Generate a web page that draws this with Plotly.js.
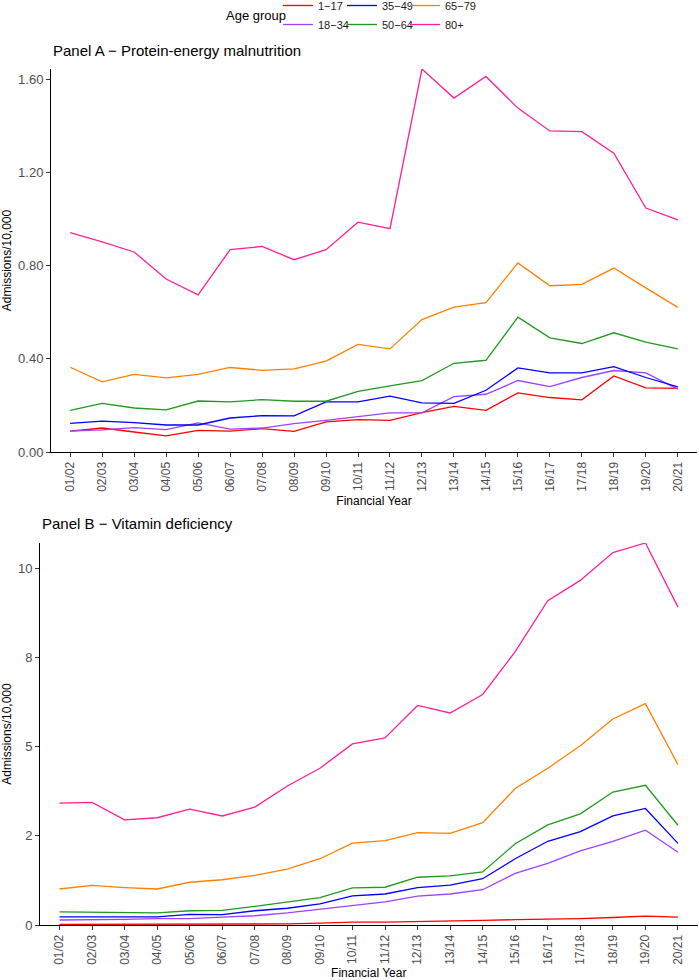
<!DOCTYPE html>
<html>
<head>
<meta charset="utf-8">
<script src="https://cdn.plot.ly/plotly-3.0.1.min.js"></script>
<style>
  html, body { margin: 0; padding: 0; background: #ffffff; }
  #chart { width: 699px; height: 980px; }
</style>
</head>
<body>
<div id="chart"></div>
<script>
// Financial years (x categories)
const years = ['01/02','02/03','03/04','04/05','05/06','06/07','07/08','08/09','09/10','10/11',
               '11/12','12/13','13/14','14/15','15/16','16/17','17/18','18/19','19/20','20/21'];

// Age groups and their line colours
const ageGroups = ['1\u221217', '18\u221234', '35\u221249', '50\u221264', '65\u221279', '80+'];
const groupColors = ['#ff0000', '#a040ff', '#0000ff', '#1f9a1f', '#ff8000', '#ff1f9a'];

// Panel A: protein-energy malnutrition, admissions per 10,000
const pemAge1to17  = [0.090, 0.103, 0.086, 0.069, 0.093, 0.090, 0.100, 0.089, 0.129, 0.139,
                      0.136, 0.169, 0.196, 0.179, 0.254, 0.234, 0.224, 0.327, 0.275, 0.273];
const pemAge18to34 = [0.090, 0.095, 0.105, 0.096, 0.125, 0.098, 0.103, 0.122, 0.136, 0.151,
                      0.168, 0.168, 0.238, 0.248, 0.307, 0.281, 0.320, 0.350, 0.340, 0.270];
const pemAge35to49 = [0.123, 0.133, 0.126, 0.116, 0.116, 0.146, 0.156, 0.155, 0.215, 0.215,
                      0.240, 0.211, 0.209, 0.265, 0.361, 0.340, 0.340, 0.367, 0.320, 0.280];
const pemAge50to64 = [0.179, 0.209, 0.189, 0.181, 0.219, 0.215, 0.225, 0.218, 0.218, 0.260,
                      0.284, 0.307, 0.381, 0.394, 0.579, 0.490, 0.466, 0.512, 0.472, 0.443];
const pemAge65to79 = [0.364, 0.301, 0.333, 0.318, 0.333, 0.363, 0.351, 0.357, 0.390, 0.462,
                      0.443, 0.569, 0.622, 0.641, 0.812, 0.714, 0.720, 0.790, 0.705, 0.621];
const pemAge80plus = [0.942, 0.903, 0.859, 0.743, 0.675, 0.869, 0.883, 0.826, 0.869, 0.987,
                      0.959, 1.645, 1.520, 1.613, 1.477, 1.379, 1.376, 1.283, 1.048, 0.997];

// Panel B: vitamin deficiency, admissions per 10,000
const vitAge1to17  = [0.02, 0.02, 0.02, 0.02, 0.03, 0.03, 0.03, 0.03, 0.05, 0.08,
                      0.08, 0.09, 0.10, 0.13, 0.15, 0.16, 0.18, 0.21, 0.25, 0.22];
const vitAge18to34 = [0.14, 0.14, 0.16, 0.18, 0.18, 0.22, 0.26, 0.34, 0.44, 0.56,
                      0.65, 0.81, 0.87, 0.99, 1.45, 1.73, 2.08, 2.35, 2.66, 2.04];
const vitAge35to49 = [0.23, 0.23, 0.23, 0.23, 0.30, 0.29, 0.40, 0.47, 0.59, 0.82,
                      0.87, 1.05, 1.12, 1.30, 1.86, 2.35, 2.62, 3.06, 3.27, 2.29];
const vitAge50to64 = [0.37, 0.36, 0.35, 0.34, 0.40, 0.41, 0.52, 0.64, 0.77, 1.04,
                      1.06, 1.34, 1.38, 1.49, 2.28, 2.81, 3.12, 3.73, 3.92, 2.80];
const vitAge65to79 = [1.01, 1.11, 1.05, 1.01, 1.20, 1.27, 1.39, 1.57, 1.86, 2.30,
                      2.37, 2.59, 2.57, 2.87, 3.83, 4.40, 5.03, 5.78, 6.21, 4.50];
const vitAge80plus = [3.42, 3.44, 2.95, 3.01, 3.25, 3.06, 3.31, 3.90, 4.40, 5.08,
                      5.25, 6.16, 5.95, 6.47, 7.67, 9.10, 9.67, 10.45, 10.72, 8.92];

// Axis ticks
const pemTickVals = [0, 0.4, 0.8, 1.2, 1.6];
const pemTickText = ['0.00', '0.40', '0.80', '1.20', '1.60'];
const vitTickVals = [0, 2.5, 5, 7.5, 10];
const vitTickText = ['0', '2', '5', '8', '10'];

const panelTitleA = 'Panel A \u2212 Protein-energy malnutrition';
const panelTitleB = 'Panel B \u2212 Vitamin deficiency';
const legendTitle = 'Age group';
const xTitle = 'Financial Year';
const yTitle = 'Admissions/10,000';

const pemSeries = [pemAge1to17, pemAge18to34, pemAge35to49, pemAge50to64, pemAge65to79, pemAge80plus];
const vitSeries = [vitAge1to17, vitAge18to34, vitAge35to49, vitAge50to64, vitAge65to79, vitAge80plus];

// legend is laid out in three columns of two entries each
const legendColumnOf = ['legend', 'legend', 'legend2', 'legend2', 'legend3', 'legend3'];

const FONT = 'Liberation Sans, Arial, Helvetica, sans-serif';
const W = 699, H = 980;

const traces = [];
ageGroups.forEach((g, i) => {
  traces.push({
    type: 'scatter', mode: 'lines', x: years, y: pemSeries[i], name: g,
    xaxis: 'x', yaxis: 'y',
    line: { color: groupColors[i], width: 1.3 },
    legend: legendColumnOf[i],
    hoverinfo: 'skip'
  });
});
ageGroups.forEach((g, i) => {
  traces.push({
    type: 'scatter', mode: 'lines', x: years, y: vitSeries[i], name: g,
    xaxis: 'x2', yaxis: 'y2', showlegend: false,
    line: { color: groupColors[i], width: 1.3 },
    hoverinfo: 'skip'
  });
});

const px = v => v / W;
const py = v => 1 - v / H;

const commonX = {
  type: 'category', range: [-0.6, 19.6], showgrid: false, zeroline: false,
  showline: true, linecolor: '#000000', linewidth: 1,
  ticks: 'outside', ticklen: 4, tickcolor: '#333333', tickwidth: 1,
  tickangle: -90, tickfont: { family: FONT, size: 12, color: '#4d4d4d' },
  title: { text: xTitle, font: { family: FONT, size: 12, color: '#000000' }, standoff: 5 },
  fixedrange: true
};
const commonY = {
  showgrid: false, zeroline: false, showline: true, linecolor: '#000000', linewidth: 1,
  ticks: 'outside', ticklen: 4, tickcolor: '#333333', tickwidth: 1,
  tickmode: 'array', tickfont: { family: FONT, size: 13, color: '#4d4d4d' },
  fixedrange: true
};

const maxA = Math.max(...pemSeries.flat());
const maxB = Math.max(...vitSeries.flat());

function legendColumn(left) {
  return {
    orientation: 'v', x: px(left), xanchor: 'left', y: py(15), yanchor: 'middle',
    itemwidth: 30, bgcolor: 'rgba(0,0,0,0)', borderwidth: 0, tracegroupgap: 0,
    font: { family: FONT, size: 11, color: '#1a1a1a' }, traceorder: 'normal'
  };
}

const layout = {
  width: W, height: H,
  margin: { l: 0, r: 0, t: 0, b: 0, autoexpand: false },
  paper_bgcolor: '#ffffff', plot_bgcolor: '#ffffff',
  font: { family: FONT, color: '#000000' },
  showlegend: true,
  xaxis: Object.assign({}, commonX, { domain: [px(51), px(697)], anchor: 'y' }),
  yaxis: Object.assign({}, commonY, {
    domain: [py(452), py(69)], anchor: 'x', range: [0, maxA],
    tickvals: pemTickVals, ticktext: pemTickText,
    title: { text: yTitle, font: { family: FONT, size: 12, color: '#000000' }, standoff: 3 }
  }),
  xaxis2: Object.assign({}, commonX, { domain: [px(40), px(697.5)], anchor: 'y2' }),
  yaxis2: Object.assign({}, commonY, {
    domain: [py(925), py(543)], anchor: 'x2', range: [0, maxB],
    tickvals: vitTickVals, ticktext: vitTickText,
    title: { text: yTitle, font: { family: FONT, size: 12, color: '#000000' }, standoff: 3 }
  }),
  legend: legendColumn(278),
  legend2: legendColumn(342),
  legend3: legendColumn(405),
  annotations: [
    { text: legendTitle, xref: 'paper', yref: 'paper', x: px(224), y: py(16),
      xanchor: 'left', yanchor: 'middle', showarrow: false,
      font: { family: FONT, size: 13, color: '#000000' } },
    { text: panelTitleA, xref: 'paper', yref: 'paper', x: px(51), y: py(51),
      xanchor: 'left', yanchor: 'middle', showarrow: false,
      font: { family: FONT, size: 15, color: '#000000' } },
    { text: panelTitleB, xref: 'paper', yref: 'paper', x: px(40), y: py(523),
      xanchor: 'left', yanchor: 'middle', showarrow: false,
      font: { family: FONT, size: 15, color: '#000000' } }
  ]
};

Plotly.newPlot('chart', traces, layout, { staticPlot: true, displayModeBar: false });
</script>
</body>
</html>
